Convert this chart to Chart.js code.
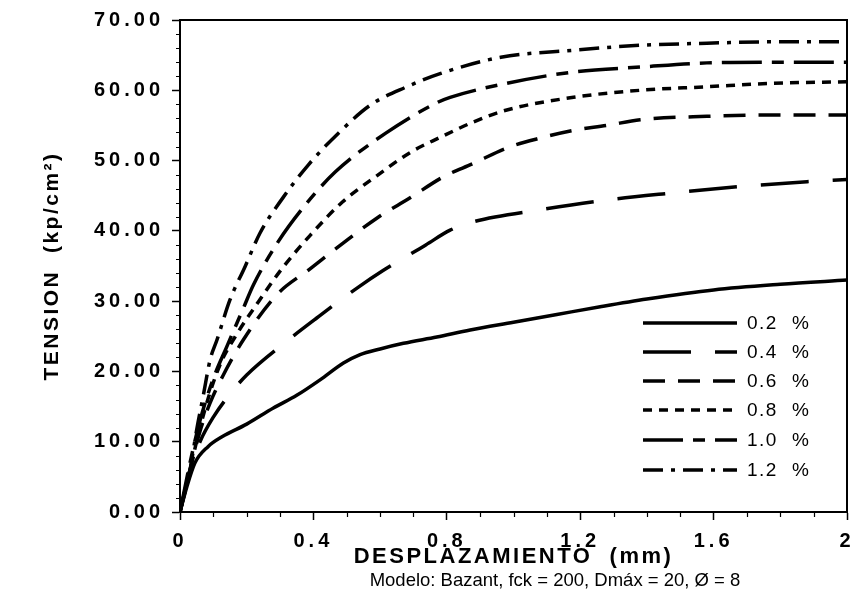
<!DOCTYPE html>
<html><head><meta charset="utf-8">
<style>html,body{margin:0;padding:0;background:#fff}</style>
<script src="https://cdn.jsdelivr.net/npm/chart.js@4.4.1/dist/chart.umd.min.js"></script>
</head><body>
<canvas id="c" width="851" height="599" style="display:block;width:851px;height:599px"></canvas>
<script>
// ---- data (displacement in mm, stress in kp/cm2) ----
const seriesLabels = ['0.2 %', '0.4 %', '0.6 %', '0.8 %', '1.0 %', '1.2 %'];

const x02 = [0, 0.02, 0.045, 0.084, 0.126, 0.2, 0.28, 0.35, 0.42, 0.49, 0.54, 0.6, 0.67, 0.77, 0.87, 1.0, 1.13, 1.26, 1.4, 1.6, 1.8, 2.0];
const y02 = [0, 3.5, 7.0, 9.3, 10.7, 12.5, 14.8, 16.6, 18.8, 21.2, 22.4, 23.2, 24.0, 24.9, 25.9, 27.0, 28.1, 29.2, 30.3, 31.6, 32.4, 33.0];

const x04 = [0, 0.03, 0.06, 0.1, 0.15, 0.2, 0.32, 0.41, 0.535, 0.61, 0.737, 0.81, 0.88, 1.08, 1.28, 1.48, 1.68, 1.88, 2.0];
const y04 = [0, 6.0, 10.0, 13.5, 16.8, 19.5, 24.3, 27.6, 32.0, 34.4, 38.0, 40.1, 41.3, 43.0, 44.4, 45.4, 46.3, 47.0, 47.3];

const x06 = [0, 0.03, 0.06, 0.09, 0.13, 0.19, 0.29, 0.39, 0.49, 0.59, 0.69, 0.79, 0.88, 0.98, 1.08, 1.18, 1.28, 1.38, 1.58, 1.78, 2.0];
const y06 = [0, 6.0, 11.5, 15.5, 19.5, 24.5, 30.9, 34.6, 38.3, 41.8, 44.7, 47.7, 49.6, 51.8, 53.2, 54.3, 55.0, 55.8, 56.3, 56.5, 56.5];

const x08 = [0, 0.03, 0.06, 0.09, 0.125, 0.165, 0.232, 0.307, 0.391, 0.487, 0.592, 0.692, 0.78, 0.88, 0.98, 1.18, 1.38, 1.58, 1.78, 2.0];
const y08 = [0, 6.0, 12.0, 17.0, 21.5, 24.9, 29.7, 34.7, 39.4, 44.1, 47.9, 51.2, 53.3, 55.5, 57.2, 59.0, 60.0, 60.5, 61.0, 61.2];

const x10 = [0, 0.03, 0.06, 0.1, 0.14, 0.19, 0.22, 0.295, 0.376, 0.466, 0.617, 0.773, 0.81, 0.98, 1.18, 1.38, 1.58, 1.78, 2.0];
const y10 = [0, 7.0, 13.0, 19.0, 23.5, 29.0, 32.3, 38.5, 43.7, 48.4, 53.9, 58.3, 59.0, 61.0, 62.6, 63.3, 63.9, 64.0, 64.0];

const x12 = [0, 0.03, 0.05, 0.07, 0.09, 0.111, 0.15, 0.195, 0.24, 0.31, 0.385, 0.475, 0.571, 0.68, 0.782, 0.962, 1.18, 1.38, 1.58, 1.78, 2.0];
const y12 = [0, 6.0, 11.7, 16.6, 21.6, 24.5, 30.2, 34.9, 39.7, 44.8, 49.4, 53.9, 57.9, 60.5, 62.4, 64.7, 65.7, 66.4, 66.7, 66.9, 66.9];

const xTickValues = [0, 0.4, 0.8, 1.2, 1.6, 2];
const yTickValues = [0, 10, 20, 30, 40, 50, 60, 70];
const xTitle = 'DESPLAZAMIENTO  (mm)';
const yTitle = 'TENSION  (kp/cm²)';
const caption = 'Modelo: Bazant, fck = 200, Dmáx = 20, Ø = 8';

// ---- styles ----
const FAM = "'Liberation Sans', Arial, Helvetica, sans-serif";
const dashes = [[], [48, 24], [22, 13], [9, 7], [40, 10, 12, 10], [20, 8, 4, 8]];
const seriesX = [x02, x04, x06, x08, x10, x12];
const seriesY = [y02, y04, y06, y08, y10, y12];

const datasets = seriesLabels.map((lab, i) => ({
  label: lab,
  data: seriesX[i].map((x, j) => ({x: x, y: seriesY[i][j]})),
  borderColor: '#000',
  backgroundColor: '#000',
  borderWidth: 3.5,
  borderDash: dashes[i],
  borderCapStyle: 'butt',
  pointRadius: 0,
  showLine: true,
  fill: false,
  tension: 0.3,
  cubicInterpolationMode: 'monotone'
}));

const decor = {
  id: 'decor',
  beforeDraw(chart) {
    chart.ctx.letterSpacing = '2.5px';   // axis titles
  },
  afterDatasetsDraw(chart) {
    chart.ctx.letterSpacing = '4px';     // tick labels (drawn after datasets, z=1)
  },
  afterDraw(chart) {
    const ctx = chart.ctx;
    const a = chart.chartArea;
    const xs = chart.scales.x, ys = chart.scales.y;
    ctx.save();
    ctx.letterSpacing = '0px';
    ctx.strokeStyle = '#000';
    ctx.setLineDash([]);
    // frame top & right
    ctx.lineWidth = 2;
    ctx.beginPath();
    ctx.moveTo(a.left, a.top); ctx.lineTo(a.right, a.top); ctx.lineTo(a.right, a.bottom);
    ctx.stroke();
    // minor ticks
    ctx.lineWidth = 1.2;
    ctx.beginPath();
    for (let v = 2; v < 70; v += 2) {
      if (v % 10 === 0) continue;
      const p = Math.round(ys.getPixelForValue(v)) + 0.5;
      ctx.moveTo(a.left, p); ctx.lineTo(a.left - 4, p);
    }
    for (let k = 1; k < 20; k++) {
      if (k % 4 === 0) continue;
      const p = Math.round(xs.getPixelForValue(k / 10)) + 0.5;
      ctx.moveTo(p, a.bottom); ctx.lineTo(p, a.bottom + 5);
    }
    ctx.stroke();
    // legend
    const rows = [323, 352, 381, 410, 440, 470];
    chart.data.datasets.forEach((ds, i) => {
      const y = rows[i];
      ctx.lineWidth = 3.5;
      ctx.setLineDash(ds.borderDash || []);
      ctx.beginPath();
      ctx.moveTo(643, y); ctx.lineTo(737, y);
      ctx.stroke();
      ctx.setLineDash([]);
      const parts = ds.label.split(' ');
      ctx.fillStyle = '#000';
      ctx.font = '19px ' + FAM;
      ctx.letterSpacing = '1.5px';
      ctx.textAlign = 'left';
      ctx.textBaseline = 'middle';
      ctx.fillText(parts[0], 747, y + 1);
      ctx.fillText(parts[1], 792, y + 1);
      ctx.letterSpacing = '0px';
    });
    // caption
    ctx.font = '18.5px ' + FAM;
    ctx.textAlign = 'center';
    ctx.textBaseline = 'middle';
    ctx.fillStyle = '#000';
    ctx.fillText(caption, 555, 581);
    ctx.restore();
  }
};

new Chart(document.getElementById('c'), {
  type: 'scatter',
  data: {datasets: datasets},
  plugins: [decor],
  options: {
    responsive: false,
    animation: false,
    devicePixelRatio: 1,
    layout: {padding: {left: 0, right: 4, top: 20, bottom: 0}},
    plugins: {legend: {display: false}, tooltip: {enabled: false}, title: {display: false}},
    scales: {
      x: {
        type: 'linear', min: 0, max: 2,
        afterBuildTicks: s => { s.ticks = xTickValues.map(v => ({value: v})); },
        afterFit: s => { s.height = 87; s.paddingLeft = 0; s.paddingRight = 0; },
        ticks: {
          callback: v => String(+Number(v).toFixed(1)),
          font: {family: FAM, size: 20, weight: 'bold'}, color: '#000',
          padding: 9, maxRotation: 0, autoSkip: false, z: 1
        },
        grid: {drawOnChartArea: false, drawTicks: true, tickLength: 8, tickColor: '#000', tickWidth: 1.5},
        border: {color: '#000', width: 2},
        title: {display: true, text: xTitle, color: '#000',
          font: {family: FAM, size: 22, weight: 'bold'}, padding: {top: 0, bottom: 29}}
      },
      y: {
        type: 'linear', min: 0, max: 70,
        afterBuildTicks: s => { s.ticks = yTickValues.map(v => ({value: v})); },
        afterFit: s => { s.width = 180; s.paddingTop = 0; s.paddingBottom = 0; },
        ticks: {
          callback: v => Number(v).toFixed(2),
          font: {family: FAM, size: 20, weight: 'bold'}, color: '#000',
          padding: 8, autoSkip: false, z: 1
        },
        grid: {drawOnChartArea: false, drawTicks: true, tickLength: 8, tickColor: '#000', tickWidth: 1.5},
        border: {color: '#000', width: 2},
        title: {display: true, text: yTitle, color: '#000',
          font: {family: FAM, size: 21, weight: 'bold'}, padding: {top: 40, bottom: 0}}
      }
    }
  }
});
</script>
</body></html>
